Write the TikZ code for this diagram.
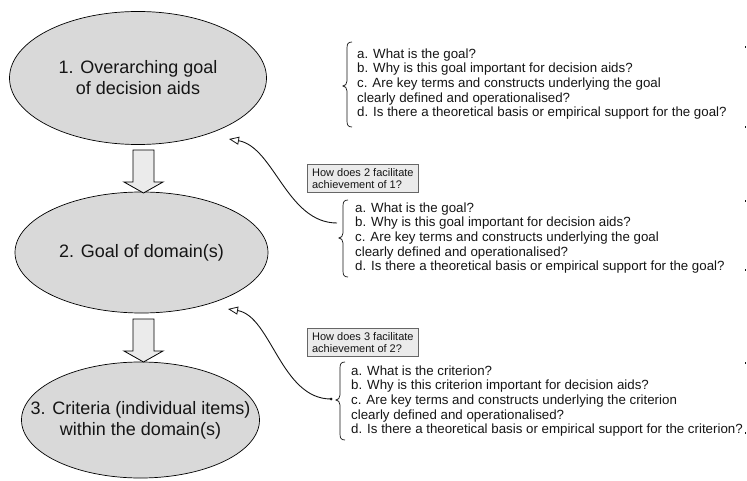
\documentclass[tikz,border=0pt]{standalone}
\usepackage{fontspec}
\setmainfont{Liberation Sans}
\usetikzlibrary{shapes.geometric,arrows.meta}
\definecolor{ellfill}{HTML}{D9D9D9}
\definecolor{arrfill}{HTML}{EBEBEB}
\definecolor{ink}{HTML}{151515}
\tikzset{
  goal/.style={ellipse,draw=black,line width=0.7pt,fill=ellfill,inner sep=0pt},
  goaltext/.style={inner sep=0pt,font=\fontsize{18}{21}\selectfont,text=ink,align=center},
  blockarrow/.style={draw=black,line width=0.8pt,fill=arrfill},
  qtext/.style={anchor=west,align=left,inner sep=0pt,text=ink,
    font=\fontsize{13.3}{14.6}\selectfont},
  qbox/.style={draw=black!60,line width=0.7pt,fill=arrfill,anchor=north west,
    align=left,inner xsep=3pt,inner ysep=2pt,minimum width=111pt,minimum height=28pt,
    text=ink,font=\fontsize{11}{12.5}\selectfont},
  bracestyle/.style={draw=ink,line width=0.7pt},
  conn/.style={draw=ink,line width=0.9pt,-{Triangle[open,length=10pt,width=8pt,line width=0.8pt]}},
  tick/.style={fill=ink}
}
\newcommand\qbrace[4]{% #1 tip x, #2 top, #3 bottom, #4 tip y
  \draw[bracestyle] (#1+9,#2) .. controls (#1+5,#2) and (#1+4,#2+2) .. (#1+4,#2+6)
    -- (#1+4,#4-5) .. controls (#1+4,#4-2) and (#1+2,#4) .. (#1,#4)
    .. controls (#1+2,#4) and (#1+4,#4+2) .. (#1+4,#4+5)
    -- (#1+4,#3-6) .. controls (#1+4,#3-2) and (#1+5,#3) .. (#1+9,#3);}
\begin{document}
\begin{tikzpicture}[x=1pt,y=-1pt]
\path[use as bounding box] (0,0) rectangle (747,481);

% ellipses
\node[goal,minimum width=257pt,minimum height=133pt] (g1) at (138,78) {};
\node[goaltext] (t1) at (g1.center) {1. Overarching goal\\of decision aids};
\node[goal,minimum width=253pt,minimum height=121pt] (g2) at (141.5,252.5) {};
\node[goaltext] (t2) at (g2.center) {2. Goal of domain(s)};
\node[goal,minimum width=238pt,minimum height=116pt] (g3) at (140.5,420) {};
\node[goaltext] (t3) at (g3.center) {3. Criteria (individual items)\\within the domain(s)};

% block arrows
\draw[blockarrow] (133,150) -- (154,150) -- (154,182) -- (163,182) -- (143.5,193)
  -- (124,182) -- (133,182) -- cycle;
\draw[blockarrow] (133,319) -- (154,319) -- (154,351) -- (163,351) -- (143.5,362)
  -- (124,351) -- (133,351) -- cycle;

% question blocks
\qbrace{343}{42}{127}{86}
\node[qtext] (q1) at (357,84) {a. What is the goal?\\b. Why is this goal important for decision aids?\\c. Are key terms and constructs underlying the goal\\clearly defined and operationalised?\\d. Is there a theoretical basis or empirical support for the goal?};

\qbrace{339}{200}{277}{238}
\node[qtext] (q2) at (355,238) {a. What is the goal?\\b. Why is this goal important for decision aids?\\c. Are key terms and constructs underlying the goal\\clearly defined and operationalised?\\d. Is there a theoretical basis or empirical support for the goal?};

\qbrace{336}{362}{440}{400}
\node[qtext] (q3) at (351,401) {a. What is the criterion?\\b. Why is this criterion important for decision aids?\\c. Are key terms and constructs underlying the criterion\\clearly defined and operationalised?\\d. Is there a theoretical basis or empirical support for the criterion?};

% right-edge ticks
\fill[tick] (744.5,46) rectangle (746,48);
\fill[tick] (744.5,126) rectangle (746,128);
\fill[tick] (744.5,200) rectangle (746,202);
\fill[tick] (744.5,269) rectangle (746,271);
\fill[tick] (744.5,362) rectangle (746,364);
\fill[tick] (744.5,432) rectangle (746,434);

% question boxes
\node[qbox] (h1) at (307,164) {How does 2 facilitate\\achievement of 1?};
\node[qbox] (h2) at (307,328) {How does 3 facilitate\\achievement of 2?};

% connectors
\coordinate (s1) at (337,223);
\coordinate (e1) at (229,139);
\coordinate (s2) at (331,399);
\coordinate (e2) at (228,309);
\draw[conn] (s1) .. controls +(-50,0) and +(45,8) .. (e1);
\draw[conn] (s2) .. controls +(-50,0) and +(43,7) .. (e2);
\fill[ink] (s2) circle (1.5pt);
\end{tikzpicture}
\end{document}
